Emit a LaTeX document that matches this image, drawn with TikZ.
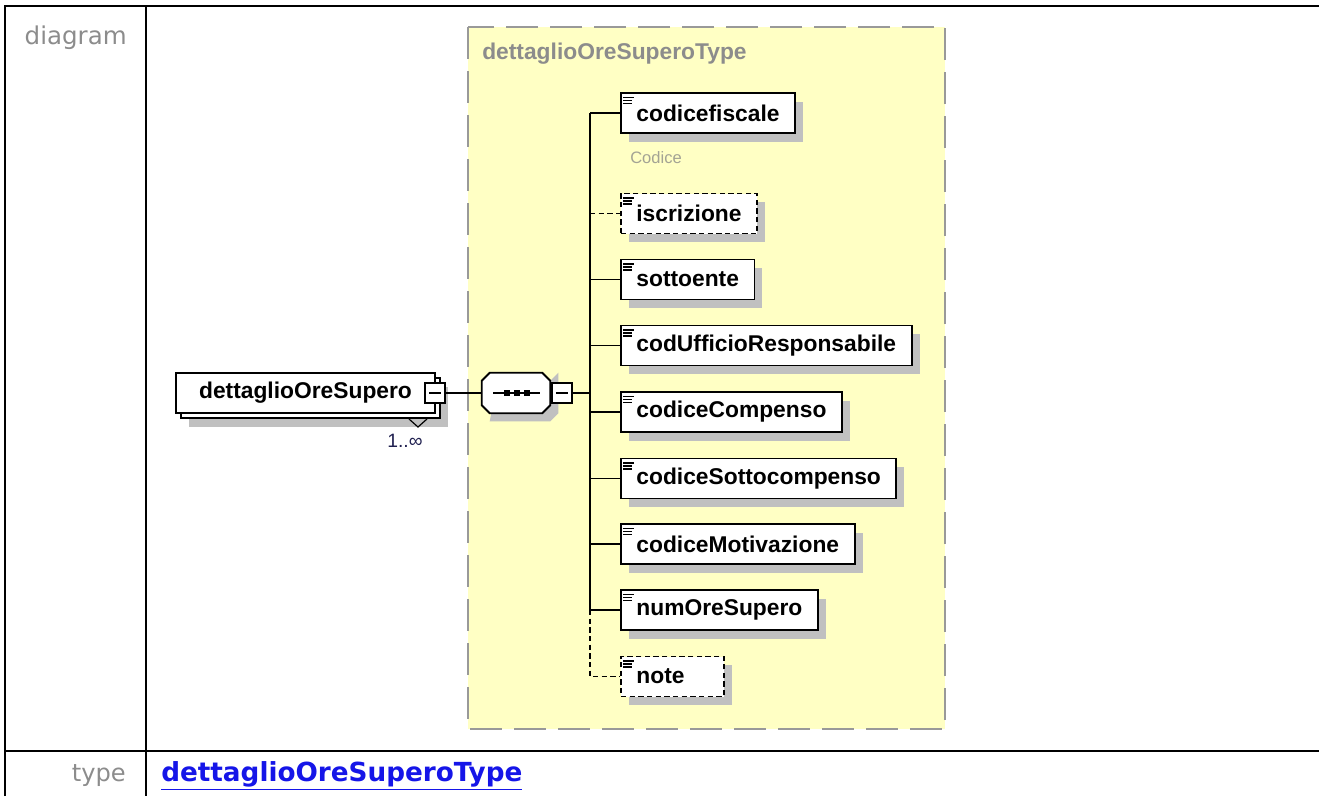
\documentclass[tikz,border=0pt]{standalone}
\usepackage{fontspec}
\setmainfont{Liberation Sans}
\newfontfamily\verdana{DejaVu Sans}
\usetikzlibrary{shadows}

\definecolor{typeyellow}{HTML}{FFFFC4}
\definecolor{shadowgray}{HTML}{C0C0C0}
\definecolor{titlegray}{HTML}{8C8C8C}
\definecolor{docgray}{HTML}{A3A394}
\definecolor{linkblue}{HTML}{1515E8}
\definecolor{multnavy}{HTML}{202050}

\tikzset{
  elem/.style={draw, fill=white, line width=1.4pt, minimum height=30pt, inner xsep=11.6pt, inner ysep=0pt,
    anchor=west, font=\fontsize{17.1}{20}\selectfont\bfseries,
    general shadow={fill=shadowgray, shadow xshift=6pt, shadow yshift=-6.5pt}},
  optelem/.style={elem, dash pattern=on 4pt off 2.5pt},
  minusbox/.style={draw, fill=white, line width=1pt, minimum size=15pt, inner sep=0pt},
  link/.style={line width=1.4pt},
}

\begin{document}
\begin{tikzpicture}[x=0.75pt, y=-0.75pt]
\useasboundingbox (0,0) rectangle (1319,796);
% table frame
\draw[line width=2.2pt] (5,796) -- (5,6) -- (1319,6);
\draw[line width=2.2pt] (146,6) -- (146,796);
\draw[line width=2.2pt] (5,751) -- (1319,751);
\node[anchor=east, inner sep=0pt, text=titlegray, font=\verdana\fontsize{18.4}{22}\selectfont] (diaglabel) at (127,38) {diagram};
\node[anchor=east, inner sep=0pt, text=titlegray, font=\verdana\fontsize{18.1}{22}\selectfont] (typelabel) at (126,776) {type};
\node[anchor=west, inner sep=0pt, text=linkblue, font=\verdana\bfseries\fontsize{19.7}{24}\selectfont] (typelink) at (161,776) {\underline{dettaglioOreSuperoType}};

% complex type
\draw[fill=typeyellow, draw=gray!80, line width=1.5pt, dash pattern=on 24pt off 9pt] (468,27) rectangle (945,729);
\node[anchor=west, inner sep=0pt, text=titlegray, font=\fontsize{17.1}{20}\selectfont\bfseries] (typetitle) at (482,54) {dettaglioOreSuperoType};

% main element
\node[draw, fill=white, line width=1.4pt, minimum width=194.25pt, minimum height=30pt, inner sep=0pt,
  font=\fontsize{17.1}{20}\selectfont\bfseries,
  general shadow={fill=shadowgray, shadow xshift=10pt, shadow yshift=-10.5pt},
  copy shadow={shadow xshift=3.75pt, shadow yshift=-3.75pt}] (mainelem) at (305.5,393) {dettaglioOreSupero};
\node[minusbox] (mainmin) at (435,393) {};
\draw[line width=0.9pt] (409,419) -- (418,427) -- (427,419);
\node[inner sep=0pt, text=multnavy, font=\fontsize{14.5}{17}\selectfont] (mult) at (405,441) {1..∞};

% sequence
\node[minimum width=51pt, minimum height=30pt, inner sep=0pt] (seq) at (516,393) {};
\fill[shadowgray] ([shift={(16,8)}]seq.north west) -- ([shift={(0,8)}]seq.north east)
  -- ([shift={(8,0)}]seq.north east) -- ([shift={(8,0)}]seq.south east) -- ([shift={(0,8)}]seq.south east)
  -- ([shift={(8,8)}]seq.south west) -- cycle;
\draw[fill=white, line width=1.4pt] ([xshift=6pt]seq.north west) -- ([xshift=-6pt]seq.north east)
  -- ([yshift=-6pt]seq.north east) -- ([yshift=6pt]seq.south east) -- ([xshift=-6pt]seq.south east)
  -- ([xshift=6pt]seq.south west) -- ([yshift=6pt]seq.south west) -- ([yshift=-6pt]seq.north west) -- cycle;
\draw[line width=1.4pt] ([xshift=-17pt]seq.center) -- ([xshift=18pt]seq.center);
\foreach \d in {-9,1,11}
  \fill ([shift={(\d-3,-3)}]seq.center) rectangle ++(6,6);
\node[minusbox, anchor=west] (seqmin) at ([xshift=0.75pt]seq.east) {};
\foreach \m in {mainmin,seqmin}
  \draw[line width=1pt] ([xshift=-4.5pt]\m.center) -- ([xshift=4.5pt]\m.center);

% children
\node[elem] (codfisc) at (620,113) {codicefiscale};
\node[anchor=west, inner sep=0pt, text=docgray, font=\fontsize{12.4}{15}\selectfont] (codfiscdoc) at (630,158) {Codice};
\node[optelem] (iscr) at (620,213.5) {iscrizione};
\node[elem] (sotto) at (620,279.5) {sottoente};
\node[elem] (ufficio) at (620,345.5) {codUfficioResponsabile};
\node[elem] (compenso) at (620,412) {codiceCompenso};
\node[elem] (sottocomp) at (620,478.5) {codiceSottocompenso};
\node[elem] (motiv) at (620,544) {codiceMotivazione};
\node[elem] (numore) at (620,610) {numOreSupero};
\node[optelem, text width=54pt, align=left] (note) at (620,676.5) {note};

\foreach \n in {codfisc,iscr,sotto,ufficio,compenso,sottocomp,motiv,numore,note} {
  \draw[line width=1pt] ([shift={(3,5.5)}]\n.north west) -- ++(11,0)
    ([shift={(3,8.5)}]\n.north west) -- ++(9,0)
    ([shift={(3,11.5)}]\n.north west) -- ++(9,0);
}

% connectors
\draw[link] (mainmin.east) -- (seq.west);
\coordinate (trunk) at (590,393);
\draw[link] (seqmin.east) -- (trunk);
\draw[link] (trunk |- codfisc.west) -- (trunk |- numore.west);
\foreach \n in {codfisc,sotto,ufficio,compenso,sottocomp,motiv,numore}
  \draw[link] (trunk |- \n.west) -- (\n.west);
\draw[link, dash pattern=on 4pt off 2.5pt] (trunk |- iscr.west) -- (iscr.west);
\draw[link, dash pattern=on 4pt off 2.5pt] (trunk |- numore.west) |- (note.west);
\end{tikzpicture}
\end{document}
